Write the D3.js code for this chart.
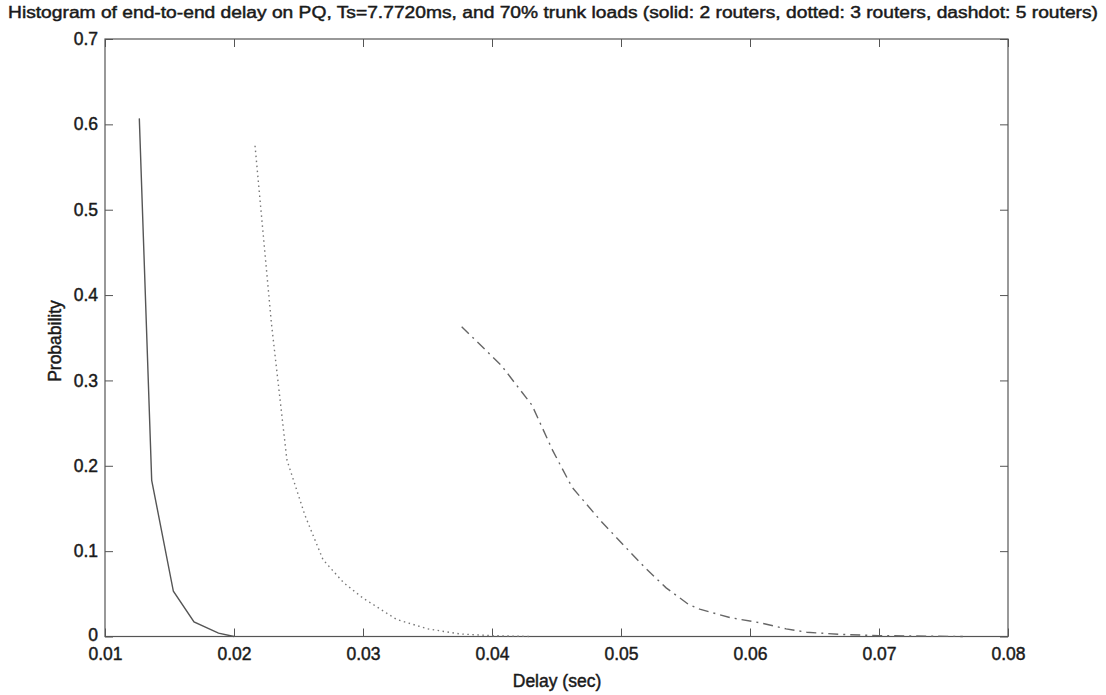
<!DOCTYPE html>
<html>
<head>
    <title>Histogram of end-to-end delay on PQ</title>
    <script src="https://d3js.org/d3.v7.min.js"></script>
    <style>
        body {
            margin: 0;
            background: #fff;
            font-family: "Liberation Sans", Arial, sans-serif;
        }
        svg {
            display: block;
            background: #fff;
        }
        .tick text {
            font-size: 17.5px;
            fill: #1a1a1a;
            stroke: #1a1a1a;
            stroke-width: 0.45px;
        }
        .label {
            fill: #1a1a1a;
            stroke: #1a1a1a;
            stroke-width: 0.45px;
        }
    </style>
</head>
<body>
    <div id="vis-container"></div>

    <script>
        const width = 1106;
        const height = 695;

        // delay (sec), probability pairs
        const delay2 = [0.01266, 0.01362, 0.0153, 0.0169, 0.0188, 0.0200];
        const prob2  = [0.607, 0.183, 0.053, 0.017, 0.004, 0.0];

        const delay3 = [0.02163, 0.0229, 0.0241, 0.0255, 0.0269, 0.0285, 0.0300, 0.0326, 0.0350, 0.0375, 0.0400, 0.0430];
        const prob3  = [0.575, 0.367, 0.207, 0.142, 0.090, 0.063, 0.045, 0.020, 0.009, 0.003, 0.001, 0.0];

        const delay5 = [0.03765, 0.0407, 0.0431, 0.0447, 0.0462, 0.0484, 0.0502, 0.0519, 0.0535, 0.0552, 0.0561, 0.0585, 0.0608, 0.0628, 0.0644, 0.0670, 0.0700, 0.0765];
        const prob5  = [0.363, 0.318, 0.271, 0.218, 0.175, 0.136, 0.107, 0.080, 0.057, 0.038, 0.032, 0.022, 0.016, 0.009, 0.005, 0.0025, 0.001, 0.0];

        const xTicks = [0.01, 0.02, 0.03, 0.04, 0.05, 0.06, 0.07, 0.08];
        const yTicks = [0, 0.1, 0.2, 0.3, 0.4, 0.5, 0.6, 0.7];

        const series = [
            { name: '2 routers', x: delay2, y: prob2, color: '#555', dash: null },
            { name: '3 routers', x: delay3, y: prob3, color: '#777', dash: '1.5,3.5' },
            { name: '5 routers', x: delay5, y: prob5, color: '#666', dash: '10,5,2,5' }
        ];

        const margin = { left: 105, right: 98, top: 39, bottom: 58.5 };
        const x0 = margin.left, x1 = width - margin.right;
        const y0 = height - margin.bottom, y1 = margin.top;

        const svg = d3.select('#vis-container')
            .append('svg')
            .attr('width', width)
            .attr('height', height);

        const x = d3.scaleLinear().domain([0.01, 0.08]).range([x0, x1]);
        const y = d3.scaleLinear().domain([0, 0.7]).range([y0, y1]);

        const fmtX = d => d3.format('.2f')(d);
        const fmtY = d => d === 0 ? '0' : d3.format('.1f')(d);

        // axes with inward ticks on all four sides
        const tickLen = 8;
        svg.append('g')
            .attr('transform', `translate(0,${y0})`)
            .call(d3.axisBottom(x).tickValues(xTicks).tickFormat(fmtX).tickSize(-tickLen).tickPadding(11))
            .call(g => g.select('.domain').remove());
        svg.append('g')
            .attr('transform', `translate(0,${y1})`)
            .call(d3.axisTop(x).tickValues(xTicks).tickFormat('').tickSize(-tickLen))
            .call(g => g.select('.domain').remove());
        svg.append('g')
            .attr('transform', `translate(${x0},0)`)
            .call(d3.axisLeft(y).tickValues(yTicks).tickFormat(fmtY).tickSize(-tickLen).tickPadding(7))
            .call(g => g.select('.domain').remove());
        svg.append('g')
            .attr('transform', `translate(${x1},0)`)
            .call(d3.axisRight(y).tickValues(yTicks).tickFormat('').tickSize(-tickLen))
            .call(g => g.select('.domain').remove());

        svg.selectAll('.tick line').attr('stroke', '#555');

        // the "0" label sits just above the first x label, nudge it up a little
        svg.selectAll('.tick text').filter(d => d === 0).attr('dy', '0.22em');

        svg.append('rect')
            .attr('x', x0).attr('y', y1)
            .attr('width', x1 - x0).attr('height', y0 - y1)
            .attr('fill', 'none')
            .attr('stroke', '#555')
            .attr('stroke-width', 1.2);

        // curves
        const line = d3.line().x(d => x(d[0])).y(d => y(d[1]));
        series.forEach(s => {
            const pts = s.x.map((v, i) => [v, s.y[i]]);
            svg.append('path')
                .datum(pts)
                .attr('d', line)
                .attr('fill', 'none')
                .attr('stroke', s.color)
                .attr('stroke-width', 1.4)
                .attr('stroke-dasharray', s.dash);
        });

        // titles
        svg.append('text')
            .attr('class', 'label')
            .attr('x', 8)
            .attr('y', 18)
            .attr('textLength', 1090)
            .attr('lengthAdjust', 'spacingAndGlyphs')
            .style('font-size', '16px')
            .text('Histogram of end-to-end delay on PQ, Ts=7.7720ms, and 70% trunk loads (solid: 2 routers, dotted: 3 routers, dashdot: 5 routers)');

        svg.append('text')
            .attr('class', 'label')
            .attr('x', 557)
            .attr('y', 687)
            .attr('text-anchor', 'middle')
            .style('font-size', '17.5px')
            .text('Delay (sec)');

        svg.append('text')
            .attr('class', 'label')
            .attr('transform', 'translate(61,341) rotate(-90)')
            .attr('text-anchor', 'middle')
            .style('font-size', '17.5px')
            .text('Probability');
    </script>
</body>
</html>
